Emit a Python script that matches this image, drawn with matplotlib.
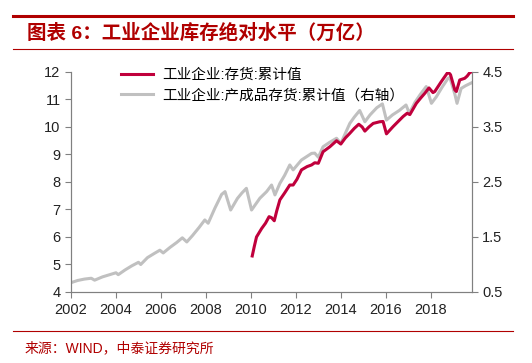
import numpy as np
import matplotlib
matplotlib.use('Agg')
import matplotlib.pyplot as plt
from matplotlib.lines import Line2D

plt.rcParams['font.family'] = ['Liberation Sans', 'Noto Sans CJK SC', 'DejaVu Sans']

# 工业企业:存货:累计值 (万亿, left axis)
red_t = [2010.06, 2010.15, 2010.25, 2010.48, 2010.65, 2010.81, 2010.92, 2011.04, 2011.15,
         2011.29, 2011.5, 2011.73, 2011.88, 2012.05, 2012.25, 2012.5, 2012.7, 2012.84,
         2013.0, 2013.21, 2013.51, 2013.81, 2014.0, 2014.2, 2014.4, 2014.6, 2014.8,
         2014.95, 2015.07, 2015.25, 2015.44, 2015.73, 2015.88, 2016.03, 2016.32, 2016.55,
         2016.77, 2016.95, 2017.07, 2017.36, 2017.55, 2017.73, 2017.92, 2018.1, 2018.18,
         2018.47, 2018.77, 2018.88, 2019.07, 2019.14, 2019.29, 2019.51, 2019.62, 2019.73,
         2019.8]
red_v = [5.31, 5.65, 6.00, 6.31, 6.50, 6.74, 6.70, 6.59, 6.95,
         7.35, 7.60, 7.89, 7.89, 8.10, 8.44, 8.56, 8.62, 8.70,
         8.68, 9.10, 9.28, 9.50, 9.38, 9.60, 9.77, 9.95, 10.10,
         10.00, 9.85, 10.00, 10.13, 10.19, 10.20, 9.75, 10.01, 10.20,
         10.38, 10.50, 10.45, 10.86, 11.05, 11.22, 11.42, 11.25, 11.29,
         11.65, 12.00, 11.90, 11.35, 11.29, 11.71, 11.77, 11.85, 11.97,
         12.00]

# 工业企业:产成品存货:累计值 (万亿, right axis)
grey_t = [2002.0, 2002.3, 2002.6, 2002.9, 2003.05, 2003.4, 2003.8, 2004.0, 2004.1,
          2004.4, 2004.7, 2005.0, 2005.1, 2005.4, 2005.7, 2005.95, 2006.1, 2006.4,
          2006.7, 2006.95, 2007.15, 2007.4, 2007.7, 2007.95, 2008.1, 2008.4, 2008.7,
          2008.85, 2009.1, 2009.4, 2009.6, 2009.8, 2010.03, 2010.4, 2010.7, 2010.92,
          2011.07, 2011.29, 2011.5, 2011.73, 2011.88, 2012.25, 2012.7, 2012.84, 2013.0,
          2013.21, 2013.5, 2013.81, 2014.0, 2014.4, 2014.6, 2014.84, 2015.07, 2015.3,
          2015.6, 2015.85, 2016.03, 2016.3, 2016.6, 2016.9, 2017.05, 2017.3, 2017.55,
          2017.8, 2018.03, 2018.25, 2018.5, 2018.77, 2018.85, 2019.07, 2019.17, 2019.35,
          2019.55, 2019.8]
grey_v = [0.67, 0.71, 0.735, 0.75, 0.715, 0.775, 0.825, 0.85, 0.815,
          0.90, 0.975, 1.04, 1.00, 1.125, 1.20, 1.26, 1.21, 1.31,
          1.40, 1.485, 1.41, 1.525, 1.675, 1.81, 1.75, 2.025, 2.275,
          2.325, 1.99, 2.20, 2.30, 2.385, 1.99, 2.205, 2.325, 2.445,
          2.265, 2.475, 2.62, 2.81, 2.72, 2.90, 3.02, 3.025, 2.95,
          3.14, 3.22, 3.295, 3.20, 3.565, 3.68, 3.80, 3.595, 3.72,
          3.85, 3.92, 3.625, 3.72, 3.80, 3.90, 3.75, 3.95, 4.10,
          4.235, 3.93, 4.05, 4.22, 4.385, 4.40, 4.10, 3.93, 4.20,
          4.25, 4.30]

red_c = '#C0003C'
grey_c = '#C0C0C0'
title_c = '#B00000'

fig = plt.figure(figsize=(5.32, 3.63), dpi=100)
ax = fig.add_axes([0.1335, 0.1956, 0.7535, 0.6061])
ax2 = ax.twinx()

ax2.plot(grey_t, grey_v, color=grey_c, lw=2.2)
ax.plot(red_t, red_v, color=red_c, lw=2.2)
ax.set_zorder(ax2.get_zorder() + 1)
ax.patch.set_visible(False)

ax.set_xlim(2002, 2019.83)
ax.set_ylim(4, 12)
ax2.set_ylim(0.5, 4.5)
ax.set_xticks(range(2002, 2019, 2))
ax.set_yticks(range(4, 13))
ax2.set_yticks([0.5, 1.5, 2.5, 3.5, 4.5])

for a in (ax, ax2):
    for s in a.spines.values():
        s.set_color('#808080')
    a.spines['top'].set_visible(False)
    a.tick_params(colors='#808080', labelcolor='#222222', labelsize=10.5, length=4)
ax.tick_params(axis='x', pad=4)

handles = [Line2D([], [], color=red_c, lw=2.2), Line2D([], [], color=grey_c, lw=2.2)]
ax.legend(handles, ['工业企业:存货:累计值', '工业企业:产成品存货:累计值（右轴）'],
          loc='upper left', bbox_to_anchor=(0.11, 1.045), frameon=False, fontsize=10.5,
          handlelength=2.2, handletextpad=0.6, labelspacing=0.45, borderaxespad=0)

# header and footer
fig.add_artist(Line2D([0.025, 0.965], [1 - 16 / 363] * 2, color=title_c, lw=2.2))
fig.add_artist(Line2D([0.025, 0.965], [1 - 49 / 363] * 2, color=title_c, lw=0.8))
fig.text(0.05, 1 - 33 / 363, '图表 6：工业企业库存绝对水平（万亿）', color=title_c,
         fontsize=14, fontweight='bold', va='center')
fig.add_artist(Line2D([0.025, 0.965], [1 - 331 / 363] * 2, color=title_c, lw=0.8))
fig.text(0.047, 1 - 348 / 363, '来源：WIND，中泰证券研究所', color=title_c,
         fontsize=10, va='center')

fig.savefig('out.png', dpi=100)
